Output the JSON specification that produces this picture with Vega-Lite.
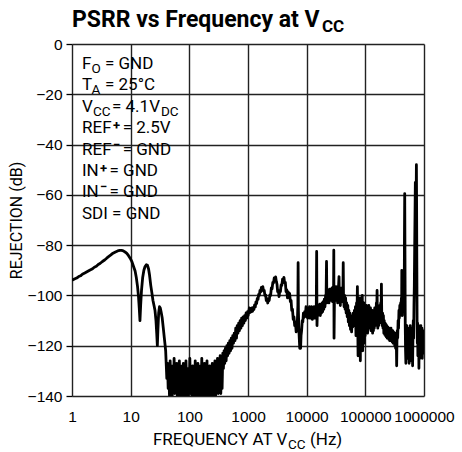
{
  "$schema": "https://vega.github.io/schema/vega-lite/v6.json",
  "autosize": {"type": "none"},
  "padding": {"left": 72, "top": 44, "right": 38, "bottom": 56},
  "width": 352,
  "height": 352,
  "background": "white",
  "datasets": {
    "curve": [
      {"hz":1,"db":-94},{"hz":1.1,"db":-93.5},{"hz":1.2,"db":-93.1},{"hz":1.3,"db":-92.5},{"hz":1.4,"db":-92.2},{"hz":1.5,"db":-91.6},{"hz":1.65,"db":-91.1},{"hz":1.8,"db":-90.6},{"hz":2,"db":-90},{"hz":2.2,"db":-89.5},{"hz":2.4,"db":-88.8},{"hz":2.6,"db":-88.4},{"hz":2.8,"db":-87.7},{"hz":3,"db":-87.3},{"hz":3.3,"db":-86.5},{"hz":3.6,"db":-85.9},{"hz":3.9,"db":-85.2},{"hz":4.2,"db":-84.6},{"hz":4.6,"db":-83.9},{"hz":5,"db":-83.2},{"hz":5.5,"db":-82.7},{"hz":6,"db":-82.3},{"hz":6.5,"db":-82.1},{"hz":7,"db":-82.1},{"hz":7.5,"db":-82.3},{"hz":8,"db":-82.7},{"hz":8.6,"db":-83.3},{"hz":9.2,"db":-84.2},{"hz":9.8,"db":-85.2},{"hz":10.5,"db":-86.6},{"hz":11.2,"db":-88.5},{"hz":11.9,"db":-90.3},{"hz":12.5,"db":-93},{"hz":13.1,"db":-96.5},{"hz":13.6,"db":-100.5},{"hz":14,"db":-105},{"hz":14.4,"db":-110},{"hz":14.8,"db":-104},{"hz":15.3,"db":-98},{"hz":16,"db":-93},{"hz":16.8,"db":-90},{"hz":17.6,"db":-88.5},{"hz":18.5,"db":-87.8},{"hz":19.3,"db":-88},{"hz":20.2,"db":-89.5},{"hz":21,"db":-92},{"hz":22,"db":-96},{"hz":23,"db":-99},{"hz":24,"db":-102},{"hz":25,"db":-104},{"hz":26,"db":-106},{"hz":27,"db":-110},{"hz":27.8,"db":-115},{"hz":28.5,"db":-120},{"hz":29.2,"db":-113},{"hz":30,"db":-107},{"hz":31,"db":-104.5},{"hz":32,"db":-105},{"hz":33,"db":-106.5},{"hz":34.5,"db":-109},{"hz":36,"db":-113},{"hz":37.5,"db":-117},{"hz":38.5,"db":-119.5},{"hz":39.5,"db":-122},{"hz":40.5,"db":-128},{"hz":41.3,"db":-133},
      {"hz":42.5,"db":-127},{"hz":43.6,"db":-137},{"hz":44.7,"db":-130},{"hz":45.9,"db":-140},{"hz":47.1,"db":-126},{"hz":48.3,"db":-135},{"hz":49.6,"db":-131},{"hz":50.9,"db":-141},{"hz":52.2,"db":-128},{"hz":53.6,"db":-136},{"hz":55,"db":-125},{"hz":56.4,"db":-139},{"hz":57.9,"db":-129},{"hz":59.4,"db":-134},{"hz":61,"db":-127},{"hz":62.6,"db":-141},{"hz":64.2,"db":-130},{"hz":65.9,"db":-137},{"hz":67.6,"db":-126},{"hz":69.4,"db":-140},{"hz":71.2,"db":-131},{"hz":73.1,"db":-136},{"hz":75,"db":-128},{"hz":77,"db":-141},{"hz":79,"db":-127},{"hz":81,"db":-138},{"hz":83.1,"db":-132},{"hz":85.3,"db":-140},{"hz":87.6,"db":-126},{"hz":89.9,"db":-135},{"hz":92.2,"db":-129},{"hz":94.6,"db":-141},{"hz":97.1,"db":-130},{"hz":99.6,"db":-137},{"hz":102,"db":-125},{"hz":105,"db":-139},{"hz":108,"db":-131},{"hz":111,"db":-141},{"hz":114,"db":-128},{"hz":117,"db":-136},{"hz":120,"db":-130},{"hz":123,"db":-140},{"hz":126,"db":-126},{"hz":129,"db":-138},{"hz":133,"db":-132},{"hz":136,"db":-141},{"hz":140,"db":-127},{"hz":143,"db":-135},{"hz":147,"db":-130},{"hz":151,"db":-140},{"hz":155,"db":-128},{"hz":159,"db":-137},{"hz":163,"db":-125},{"hz":167,"db":-141},{"hz":172,"db":-131},{"hz":176,"db":-136},{"hz":181,"db":-127},{"hz":185,"db":-140},{"hz":190,"db":-130},{"hz":195,"db":-138},{"hz":200,"db":-126},{"hz":205,"db":-141},{"hz":211,"db":-132},{"hz":216,"db":-137},{"hz":222,"db":-128},{"hz":228,"db":-140},{"hz":234,"db":-131},{"hz":240,"db":-135},{"hz":246,"db":-127},{"hz":252,"db":-141},{"hz":259,"db":-130},{"hz":266,"db":-137},{"hz":273,"db":-126},{"hz":280,"db":-140},{"hz":287,"db":-129},{"hz":295,"db":-135},{"hz":302,"db":-125},{"hz":310,"db":-139},{"hz":318,"db":-127},{"hz":327,"db":-133},{"hz":335,"db":-124},{"hz":344,"db":-139},{"hz":353,"db":-126},{"hz":362,"db":-137},{"hz":372,"db":-123},{"hz":381,"db":-129},{"hz":391,"db":-122},{"hz":401,"db":-127},
      {"hz":412,"db":-121},{"hz":424,"db":-126},{"hz":436,"db":-120},{"hz":449,"db":-124},{"hz":462,"db":-119},{"hz":476,"db":-123},{"hz":490,"db":-118},{"hz":504,"db":-122},{"hz":519,"db":-117},{"hz":534,"db":-121},{"hz":550,"db":-116},{"hz":566,"db":-119},{"hz":583,"db":-115},{"hz":600,"db":-118},{"hz":618,"db":-113},{"hz":636,"db":-117},{"hz":655,"db":-112},{"hz":674,"db":-115},{"hz":694,"db":-111},{"hz":714,"db":-114},{"hz":735,"db":-110},{"hz":757,"db":-113},{"hz":779,"db":-109},{"hz":802,"db":-112},{"hz":826,"db":-108.5},{"hz":850,"db":-111},{"hz":875,"db":-108},{"hz":901,"db":-110},{"hz":927,"db":-107},{"hz":955,"db":-109},{"hz":983,"db":-106.5},{"hz":1005,"db":-108},
      {"hz":1030,"db":-106.5},{"hz":1055,"db":-105},{"hz":1080,"db":-106.8},{"hz":1105,"db":-105.2},{"hz":1135,"db":-106.5},{"hz":1165,"db":-105},{"hz":1195,"db":-106.3},{"hz":1225,"db":-104.8},{"hz":1260,"db":-105.6},{"hz":1295,"db":-103.8},{"hz":1330,"db":-104.6},{"hz":1365,"db":-102.6},{"hz":1400,"db":-103.2},{"hz":1440,"db":-101.2},{"hz":1480,"db":-101.6},{"hz":1520,"db":-99.6},{"hz":1560,"db":-100},{"hz":1600,"db":-98},{"hz":1645,"db":-98.6},{"hz":1690,"db":-96.8},{"hz":1740,"db":-97.6},{"hz":1790,"db":-96.5},{"hz":1840,"db":-98.2},{"hz":1890,"db":-98},{"hz":1940,"db":-100},{"hz":1995,"db":-99.8},{"hz":2050,"db":-102},{"hz":2110,"db":-101.2},{"hz":2170,"db":-103},{"hz":2230,"db":-101.5},{"hz":2300,"db":-102},{"hz":2360,"db":-99.8},{"hz":2430,"db":-100},{"hz":2500,"db":-97},{"hz":2570,"db":-97.4},{"hz":2650,"db":-94.8},{"hz":2720,"db":-95},{"hz":2800,"db":-93},{"hz":2880,"db":-94},{"hz":2960,"db":-92.6},{"hz":3040,"db":-94.5},{"hz":3120,"db":-95.5},{"hz":3200,"db":-98.5},{"hz":3290,"db":-98},{"hz":3380,"db":-100.5},{"hz":3470,"db":-98.5},{"hz":3570,"db":-98.5},{"hz":3670,"db":-95.8},{"hz":3770,"db":-96},{"hz":3880,"db":-93.5},{"hz":3990,"db":-94.5},{"hz":4100,"db":-92.8},{"hz":4210,"db":-95},{"hz":4330,"db":-94.8},{"hz":4450,"db":-98.5},{"hz":4580,"db":-97.8},{"hz":4710,"db":-101},{"hz":4840,"db":-98.6},{"hz":4980,"db":-100.8},{"hz":5120,"db":-99.2},{"hz":5270,"db":-102.5},{"hz":5420,"db":-102},{"hz":5570,"db":-106},{"hz":5730,"db":-105.5},{"hz":5900,"db":-109.5},{"hz":6070,"db":-108.5},{"hz":6250,"db":-112},{"hz":6430,"db":-110.5},{"hz":6620,"db":-114.5},{"hz":6800,"db":-112},{"hz":6950,"db":-110},{"hz":7080,"db":-104},{"hz":7150,"db":-87},{"hz":7230,"db":-106},{"hz":7350,"db":-113},{"hz":7480,"db":-117},{"hz":7620,"db":-121},{"hz":7750,"db":-118.5},{"hz":7880,"db":-121},{"hz":8020,"db":-116},{"hz":8200,"db":-114},{"hz":8400,"db":-110},{"hz":8600,"db":-110.5},{"hz":8800,"db":-107},{"hz":9000,"db":-108.8},{"hz":9250,"db":-106.5},{"hz":9500,"db":-108},
      {"hz":9750,"db":-104.5},{"hz":9950,"db":-108.5},{"hz":10200,"db":-105},{"hz":10400,"db":-109},{"hz":10650,"db":-105.5},{"hz":10900,"db":-108.5},{"hz":11150,"db":-104.5},{"hz":11400,"db":-109},{"hz":11650,"db":-105},{"hz":11900,"db":-108},{"hz":12200,"db":-104.5},{"hz":12500,"db":-109.5},{"hz":12800,"db":-105.5},{"hz":13100,"db":-108.5},{"hz":13400,"db":-104.5},{"hz":13700,"db":-109},{"hz":14000,"db":-105},{"hz":14300,"db":-108.5},{"hz":14600,"db":-104},{"hz":14800,"db":-82.5},{"hz":15000,"db":-112},{"hz":15300,"db":-104.5},{"hz":15650,"db":-108},{"hz":16000,"db":-104},{"hz":16350,"db":-107.5},{"hz":16700,"db":-103.5},{"hz":17100,"db":-108},{"hz":17500,"db":-104},{"hz":17900,"db":-107},{"hz":18300,"db":-103},{"hz":18700,"db":-106.5},{"hz":19100,"db":-102.5},{"hz":19600,"db":-105.5},{"hz":20000,"db":-101.5},{"hz":20500,"db":-104.5},{"hz":21000,"db":-100},{"hz":21400,"db":-102},{"hz":21800,"db":-86.5},{"hz":22100,"db":-103},{"hz":22500,"db":-98.5},{"hz":23000,"db":-102.5},{"hz":23500,"db":-98},{"hz":24000,"db":-103},{"hz":24600,"db":-97.5},{"hz":25200,"db":-102},{"hz":25800,"db":-98},{"hz":26400,"db":-101.5},{"hz":27000,"db":-97},{"hz":27600,"db":-102.5},{"hz":28200,"db":-99},{"hz":28700,"db":-101},{"hz":29000,"db":-82},{"hz":29300,"db":-117},{"hz":29700,"db":-103},{"hz":30300,"db":-97.5},{"hz":30900,"db":-102},{"hz":31600,"db":-96.5},{"hz":32300,"db":-101.5},{"hz":33000,"db":-97},{"hz":33700,"db":-103},{"hz":34400,"db":-98},{"hz":35100,"db":-95.5},{"hz":35600,"db":-92.5},{"hz":36100,"db":-101},{"hz":36800,"db":-97},{"hz":37500,"db":-104},{"hz":38300,"db":-98.5},{"hz":39100,"db":-102.5},{"hz":39900,"db":-97},{"hz":40800,"db":-100},{"hz":41600,"db":-96},{"hz":42000,"db":-87},{"hz":42500,"db":-101},{"hz":43400,"db":-104.5},{"hz":44300,"db":-100},{"hz":45200,"db":-105.5},{"hz":46100,"db":-101},{"hz":47100,"db":-107},{"hz":48100,"db":-103},{"hz":49100,"db":-108.5},{"hz":50200,"db":-104},{"hz":51300,"db":-110.5},{"hz":52400,"db":-106},{"hz":53500,"db":-112},{"hz":54700,"db":-107},{"hz":55900,"db":-113.5},{"hz":57100,"db":-108},{"hz":58300,"db":-114.5},{"hz":59600,"db":-109},{"hz":60900,"db":-112.5},{"hz":62200,"db":-107},{"hz":63600,"db":-111.5},{"hz":65000,"db":-106},{"hz":66400,"db":-112},{"hz":67800,"db":-104.5},{"hz":69300,"db":-116},{"hz":70800,"db":-103},{"hz":72200,"db":-108},{"hz":73200,"db":-96.5},{"hz":74300,"db":-112},{"hz":75200,"db":-124},{"hz":76300,"db":-107},{"hz":77500,"db":-118},{"hz":78700,"db":-104},{"hz":80000,"db":-120},{"hz":81000,"db":-101},{"hz":82200,"db":-126},{"hz":83400,"db":-104},{"hz":84700,"db":-119},{"hz":86000,"db":-102},{"hz":87300,"db":-121},{"hz":88700,"db":-100},{"hz":90100,"db":-122},{"hz":91500,"db":-105},{"hz":93000,"db":-117},{"hz":94500,"db":-103},{"hz":96000,"db":-119},{"hz":97500,"db":-106},{"hz":99100,"db":-116},{"hz":100700,"db":-105},{"hz":102300,"db":-114},{"hz":104000,"db":-104},{"hz":105700,"db":-113},{"hz":107400,"db":-106},{"hz":109200,"db":-115},{"hz":111000,"db":-105},{"hz":112800,"db":-112},{"hz":114700,"db":-104},{"hz":116600,"db":-113},{"hz":118500,"db":-106},{"hz":120500,"db":-112},{"hz":122500,"db":-105},{"hz":124500,"db":-114},{"hz":126600,"db":-107},{"hz":128700,"db":-113},{"hz":130800,"db":-106},{"hz":133000,"db":-115},{"hz":135200,"db":-108},{"hz":137400,"db":-114},{"hz":139700,"db":-107},{"hz":142000,"db":-113},{"hz":144400,"db":-105},{"hz":146800,"db":-112},{"hz":149200,"db":-106},{"hz":151700,"db":-111},{"hz":154200,"db":-103},{"hz":156400,"db":-108},{"hz":158500,"db":-98},{"hz":160500,"db":-109},{"hz":163000,"db":-113},{"hz":165700,"db":-105},{"hz":168400,"db":-112},{"hz":171200,"db":-106},{"hz":174000,"db":-111},{"hz":176900,"db":-104},{"hz":179800,"db":-110},{"hz":182800,"db":-103},{"hz":185500,"db":-108},{"hz":188000,"db":-95.5},{"hz":190500,"db":-108},{"hz":193500,"db":-112},{"hz":196700,"db":-107},{"hz":200000,"db":-113},{"hz":203300,"db":-108},{"hz":206700,"db":-115},{"hz":210100,"db":-110},{"hz":213600,"db":-115.5},{"hz":217200,"db":-111},{"hz":220800,"db":-116},{"hz":224400,"db":-111.5},{"hz":228100,"db":-116.5},{"hz":231900,"db":-112},{"hz":235800,"db":-117},{"hz":239700,"db":-112.5},{"hz":243700,"db":-117},{"hz":247700,"db":-113},{"hz":251800,"db":-117.5},{"hz":256000,"db":-113},{"hz":260300,"db":-118},{"hz":264600,"db":-113.5},{"hz":269000,"db":-117.5},{"hz":273500,"db":-113},{"hz":278000,"db":-118},{"hz":282600,"db":-114},{"hz":287300,"db":-118.5},{"hz":292100,"db":-114},{"hz":297000,"db":-119},{"hz":301900,"db":-114.5},{"hz":306900,"db":-119},{"hz":312000,"db":-115},{"hz":317200,"db":-120},{"hz":322500,"db":-115},{"hz":327900,"db":-121},{"hz":333300,"db":-116},{"hz":338500,"db":-120},{"hz":342000,"db":-128},{"hz":346000,"db":-118},{"hz":351000,"db":-114},{"hz":356000,"db":-117},{"hz":362000,"db":-110},{"hz":368000,"db":-113},{"hz":374000,"db":-106},{"hz":380000,"db":-109},{"hz":387000,"db":-104},{"hz":394000,"db":-108},{"hz":400000,"db":-103},
      {"hz":406000,"db":-106},{"hz":412000,"db":-101},{"hz":416000,"db":-104},{"hz":418500,"db":-90},{"hz":421000,"db":-104},{"hz":427000,"db":-108},{"hz":433000,"db":-102},{"hz":440000,"db":-106},{"hz":447000,"db":-100},{"hz":454000,"db":-97},{"hz":460000,"db":-104},{"hz":464000,"db":-78},{"hz":469000,"db":-59.5},{"hz":474000,"db":-85},{"hz":479000,"db":-112},{"hz":485000,"db":-122},{"hz":491000,"db":-127},{"hz":497000,"db":-114},{"hz":503000,"db":-123},{"hz":509000,"db":-112},{"hz":516000,"db":-121},{"hz":523000,"db":-114},{"hz":530000,"db":-125},{"hz":537000,"db":-113},{"hz":544000,"db":-122},{"hz":551000,"db":-115},{"hz":558000,"db":-127},{"hz":566000,"db":-114},{"hz":574000,"db":-121},{"hz":582000,"db":-112},{"hz":590000,"db":-126},{"hz":598000,"db":-115},{"hz":606000,"db":-123},{"hz":614000,"db":-113},{"hz":622000,"db":-121},{"hz":630000,"db":-114},{"hz":639000,"db":-128},{"hz":648000,"db":-116},{"hz":657000,"db":-110},{"hz":666000,"db":-117},{"hz":675000,"db":-104},{"hz":684000,"db":-96},{"hz":693000,"db":-82},{"hz":703000,"db":-68},{"hz":712000,"db":-55},{"hz":720000,"db":-80},{"hz":728000,"db":-92},{"hz":735000,"db":-62},{"hz":742000,"db":-48},{"hz":748000,"db":-64},{"hz":755000,"db":-88},{"hz":762000,"db":-110},{"hz":770000,"db":-119},{"hz":778000,"db":-111},{"hz":786000,"db":-124},{"hz":794000,"db":-113},{"hz":802000,"db":-121},{"hz":810000,"db":-112},{"hz":819000,"db":-129},{"hz":828000,"db":-115},{"hz":837000,"db":-122},{"hz":846000,"db":-113},{"hz":855000,"db":-125},{"hz":864000,"db":-114},{"hz":874000,"db":-121},{"hz":884000,"db":-112},{"hz":894000,"db":-124},{"hz":904000,"db":-115},{"hz":914000,"db":-120},{"hz":924000,"db":-113},{"hz":934000,"db":-125},{"hz":944000,"db":-116},{"hz":954000,"db":-122},{"hz":964000,"db":-114},{"hz":974000,"db":-123},{"hz":984000,"db":-117},{"hz":992000,"db":-122},{"hz":1000000,"db":-119}
    ],
    "notes": [
      {"t":"PSRR vs Frequency at V","hz":1,"db":6.88,"k":"T"},{"t":"CC","hz":18240,"db":6.88,"k":"t"},
      {"t":"F","hz":1.48,"db":-9.75,"k":"m"},{"t":"O","hz":2.15,"db":-9.75,"k":"s"},{"t":"= GND","hz":3.65,"db":-9.75,"k":"m"},
      {"t":"T","hz":1.48,"db":-18.3,"k":"m"},{"t":"A","hz":2.15,"db":-18.3,"k":"s"},{"t":"= 25°C","hz":3.65,"db":-18.3,"k":"m"},
      {"t":"V","hz":1.48,"db":-26.85,"k":"m"},{"t":"CC","hz":2.28,"db":-26.85,"k":"s"},{"t":"= 4.1V","hz":4.81,"db":-26.85,"k":"m"},{"t":"DC","hz":32.9,"db":-26.85,"k":"s"},
      {"t":"REF","hz":1.48,"db":-35.4,"k":"m"},{"t":"+","hz":5.0,"db":-35.4,"k":"p"},{"t":"= 2.5V","hz":7.3,"db":-35.4,"k":"m"},
      {"t":"REF","hz":1.48,"db":-43.95,"k":"m"},{"t":"−","hz":5.0,"db":-43.95,"k":"q"},{"t":"= GND","hz":7.3,"db":-43.95,"k":"m"},
      {"t":"IN","hz":1.48,"db":-52.5,"k":"m"},{"t":"+","hz":3.0,"db":-52.5,"k":"p"},{"t":"= GND","hz":4.36,"db":-52.5,"k":"m"},
      {"t":"IN","hz":1.48,"db":-61.05,"k":"m"},{"t":"−","hz":3.0,"db":-61.05,"k":"q"},{"t":"= GND","hz":4.36,"db":-61.05,"k":"m"},
      {"t":"SDI = GND","hz":1.48,"db":-69.6,"k":"m"},
      {"t":"FREQUENCY AT V","hz":24.0,"db":-159.5,"k":"m"},{"t":"CC","hz":4805,"db":-159.5,"k":"s"},{"t":"(Hz)","hz":11394,"db":-159.5,"k":"m"}
    ]
  },
  "encoding": {
    "x": {"field": "hz", "type": "quantitative", "scale": {"type": "log", "domain": [1, 1000000]}, "axis": {"title": null, "values": [1, 10, 100, 1000, 10000, 100000, 1000000], "format": "d"}},
    "y": {"field": "db", "type": "quantitative", "scale": {"domain": [-140, 0], "nice": false, "zero": false}, "axis": {"title": "REJECTION (dB)", "values": [-140, -120, -100, -80, -60, -40, -20, 0]}}
  },
  "layer": [
    {
      "data": {"values": [{}]},
      "mark": {"type": "rect", "fill": "white"},
      "encoding": {"x": {"datum": 1}, "x2": {"datum": 75}, "y": {"datum": 0}, "y2": {"datum": -72}}
    },
    {
      "data": {"name": "curve"},
      "mark": {"type": "line", "color": "#000", "strokeWidth": 2.8, "strokeJoin": "round", "clip": true},
      "encoding": {}
    },
    {
      "data": {"values": [{}]},
      "mark": {"type": "rect", "fill": "transparent", "stroke": "#000", "strokeWidth": 2},
      "encoding": {"x": {"datum": 1}, "x2": {"datum": 1000000}, "y": {"datum": 0}, "y2": {"datum": -140}}
    },
    {
      "data": {"name": "notes"},
      "transform": [{"filter": "datum.k == 'm'"}],
      "mark": {"type": "text", "align": "left", "baseline": "alphabetic", "fontSize": 17, "font": "Roboto", "color": "#000"},
      "encoding": {"text": {"field": "t"}}
    },
    {
      "data": {"name": "notes"},
      "transform": [{"filter": "datum.k == 's'"}],
      "mark": {"type": "text", "align": "left", "baseline": "alphabetic", "fontSize": 13.5, "dy": 4, "font": "Roboto", "color": "#000"},
      "encoding": {"text": {"field": "t"}}
    },
    {
      "data": {"name": "notes"},
      "transform": [{"filter": "datum.k == 'p'"}],
      "mark": {"type": "text", "align": "left", "baseline": "alphabetic", "fontSize": 13, "fontWeight": "bold", "dy": -3, "font": "Roboto", "color": "#000"},
      "encoding": {"text": {"field": "t"}}
    },
    {
      "data": {"name": "notes"},
      "transform": [{"filter": "datum.k == 'q'"}],
      "mark": {"type": "text", "align": "left", "baseline": "alphabetic", "fontSize": 13, "fontWeight": "bold", "dy": -6, "font": "Roboto", "color": "#000"},
      "encoding": {"text": {"field": "t"}}
    },
    {
      "data": {"name": "notes"},
      "transform": [{"filter": "datum.k == 'T'"}],
      "mark": {"type": "text", "align": "left", "baseline": "alphabetic", "fontSize": 23, "fontWeight": "bold", "font": "Roboto", "color": "#000"},
      "encoding": {"text": {"field": "t"}}
    },
    {
      "data": {"name": "notes"},
      "transform": [{"filter": "datum.k == 't'"}],
      "mark": {"type": "text", "align": "left", "baseline": "alphabetic", "fontSize": 17, "fontWeight": "bold", "dy": 5, "font": "Roboto", "color": "#000"},
      "encoding": {"text": {"field": "t"}}
    }
  ],
  "config": {
    "view": {"stroke": null},
    "axis": {"grid": true, "gridColor": "#222", "gridWidth": 1.4, "gridOpacity": 1, "domain": false, "labelFont": "Liberation Sans", "labelFontSize": 15.5, "labelColor": "#000", "titleFont": "Roboto", "titleFontSize": 16, "titleFontWeight": "normal", "titleColor": "#000", "labelFlush": false, "labelOverlap": false},
    "axisX": {"ticks": false, "tickSize": 0, "labelPadding": 13},
    "axisY": {"ticks": true, "tickSize": 6, "tickColor": "#000", "tickWidth": 1.3, "labelPadding": 4, "titlePadding": 3}
  }
}
